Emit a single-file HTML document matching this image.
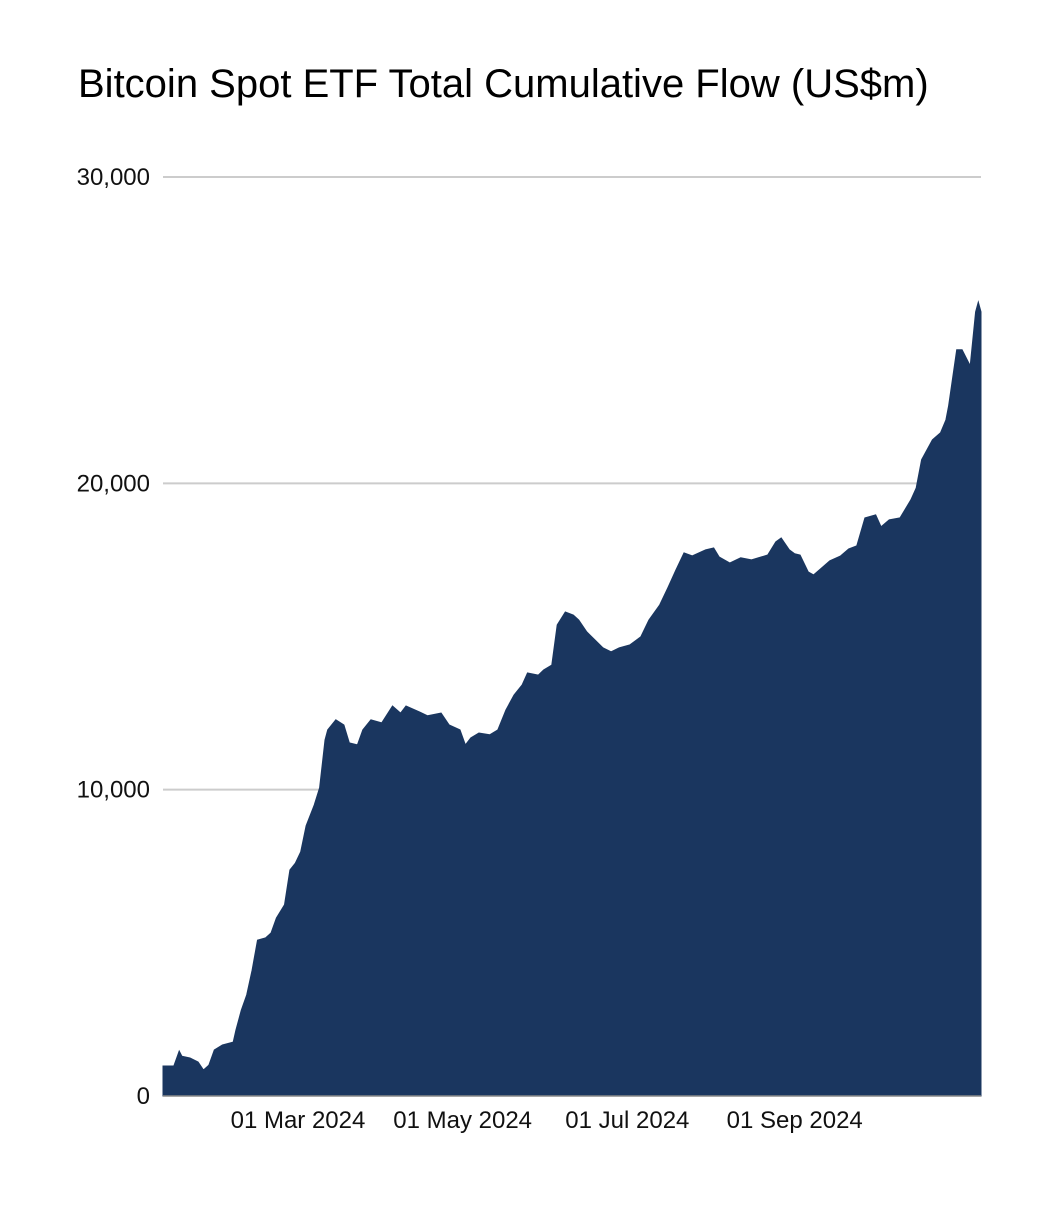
<!DOCTYPE html>
<html><head><meta charset="utf-8"><style>
body{margin:0;background:#fff;}
svg{display:block;font-family:"Liberation Sans",Arial,sans-serif;}
</style></head><body>
<svg id="chart" width="1058" height="1224">
<text x="78" y="97" font-size="40" fill="#000">Bitcoin Spot ETF Total Cumulative Flow (US$m)</text>
<g id="grid"></g><g id="area"></g><g id="axes"></g>
</svg>
<script>
const dates=["2024-01-11","2024-01-15","2024-01-17","2024-01-18","2024-01-21","2024-01-24","2024-01-26","2024-01-28","2024-01-30","2024-02-02","2024-02-06","2024-02-07","2024-02-09","2024-02-11","2024-02-13","2024-02-15","2024-02-18","2024-02-20","2024-02-22","2024-02-25","2024-02-27","2024-02-29","2024-03-02","2024-03-04","2024-03-07","2024-03-09","2024-03-11","2024-03-12","2024-03-15","2024-03-18","2024-03-20","2024-03-23","2024-03-25","2024-03-28","2024-04-01","2024-04-05","2024-04-08","2024-04-10","2024-04-15","2024-04-18","2024-04-23","2024-04-26","2024-04-30","2024-05-02","2024-05-04","2024-05-07","2024-05-11","2024-05-14","2024-05-17","2024-05-20","2024-05-23","2024-05-25","2024-05-29","2024-05-31","2024-06-03","2024-06-05","2024-06-08","2024-06-11","2024-06-13","2024-06-16","2024-06-19","2024-06-22","2024-06-25","2024-06-28","2024-07-02","2024-07-06","2024-07-09","2024-07-13","2024-07-16","2024-07-19","2024-07-22","2024-07-25","2024-07-30","2024-08-02","2024-08-04","2024-08-08","2024-08-12","2024-08-16","2024-08-22","2024-08-25","2024-08-27","2024-08-30","2024-09-01","2024-09-03","2024-09-06","2024-09-08","2024-09-11","2024-09-14","2024-09-18","2024-09-21","2024-09-24","2024-09-27","2024-10-01","2024-10-03","2024-10-06","2024-10-10","2024-10-14","2024-10-16","2024-10-18","2024-10-22","2024-10-25","2024-10-27","2024-10-28","2024-10-31","2024-11-02","2024-11-05","2024-11-07","2024-11-08","2024-11-09"];
const flows=[980,980,1470,1300,1240,1110,850,1010,1500,1665,1760,2150,2800,3300,4110,5090,5160,5320,5810,6240,7380,7600,7970,8820,9500,10060,11620,11950,12280,12110,11530,11460,11950,12280,12180,12730,12500,12730,12540,12410,12500,12110,11950,11460,11690,11850,11790,11950,12600,13090,13420,13810,13740,13910,14070,15380,15800,15700,15540,15150,14890,14630,14500,14630,14730,14990,15540,16030,16590,17170,17730,17630,17830,17890,17600,17400,17570,17500,17660,18090,18220,17830,17700,17660,17110,17010,17240,17470,17630,17860,17960,18870,18970,18580,18810,18870,19460,19850,20770,21420,21650,22070,22530,24360,24360,23840,25600,25920,25600];
const yTicks=[0,10000,20000,30000];
const yTickLabels=["0","10,000","20,000","30,000"];
const xTicks=["2024-03-01","2024-05-01","2024-07-01","2024-09-01"];
const xTickLabels=["01 Mar 2024","01 May 2024","01 Jul 2024","01 Sep 2024"];

const NS="http://www.w3.org/2000/svg";
const X0=163,X1=981,Y0=1096,Y1=177;
const t0=Date.parse(dates[0]),t1=Date.parse(dates[dates.length-1]);
const xs=d=>X0+(Date.parse(d)-t0)/(t1-t0)*(X1-X0);
const ys=v=>Y0-v/30000*(Y0-Y1);
function mk(tag,attrs,parent){const e=document.createElementNS(NS,tag);for(const k in attrs)e.setAttribute(k,attrs[k]);parent.appendChild(e);return e;}
const grid=document.getElementById('grid'),axes=document.getElementById('axes'),area=document.getElementById('area');
yTicks.forEach((v,i)=>{
  if(v>0){const l=mk('line',{x1:X0,x2:X1,y1:ys(v),y2:ys(v),stroke:'#cccccc','stroke-width':2},grid);
  
  }
  const t=mk('text',{x:150,y:ys(v)+8,'text-anchor':'end','font-size':24,fill:'#111'},axes);
  t.textContent=yTickLabels[i];
  
  
});
let d='M'+xs(dates[0])+','+Y0;
dates.forEach((dt,i)=>{d+=' L'+xs(dt).toFixed(1)+','+ys(flows[i]).toFixed(1);});
d+=' L'+xs(dates[dates.length-1])+','+Y0+' Z';
const p=mk('path',{d:d,fill:'#1a365f',stroke:'#1a365f','stroke-width':1},area);


const base=mk('line',{x1:X0,x2:X1,y1:Y0,y2:Y0,stroke:'#888','stroke-width':1.5},axes);


xTicks.forEach((dt,i)=>{
  const t=mk('text',{x:xs(dt),y:1128,'text-anchor':'middle','font-size':24,fill:'#111'},axes);
  t.textContent=xTickLabels[i];
  
  
});
</script>
</body></html>
